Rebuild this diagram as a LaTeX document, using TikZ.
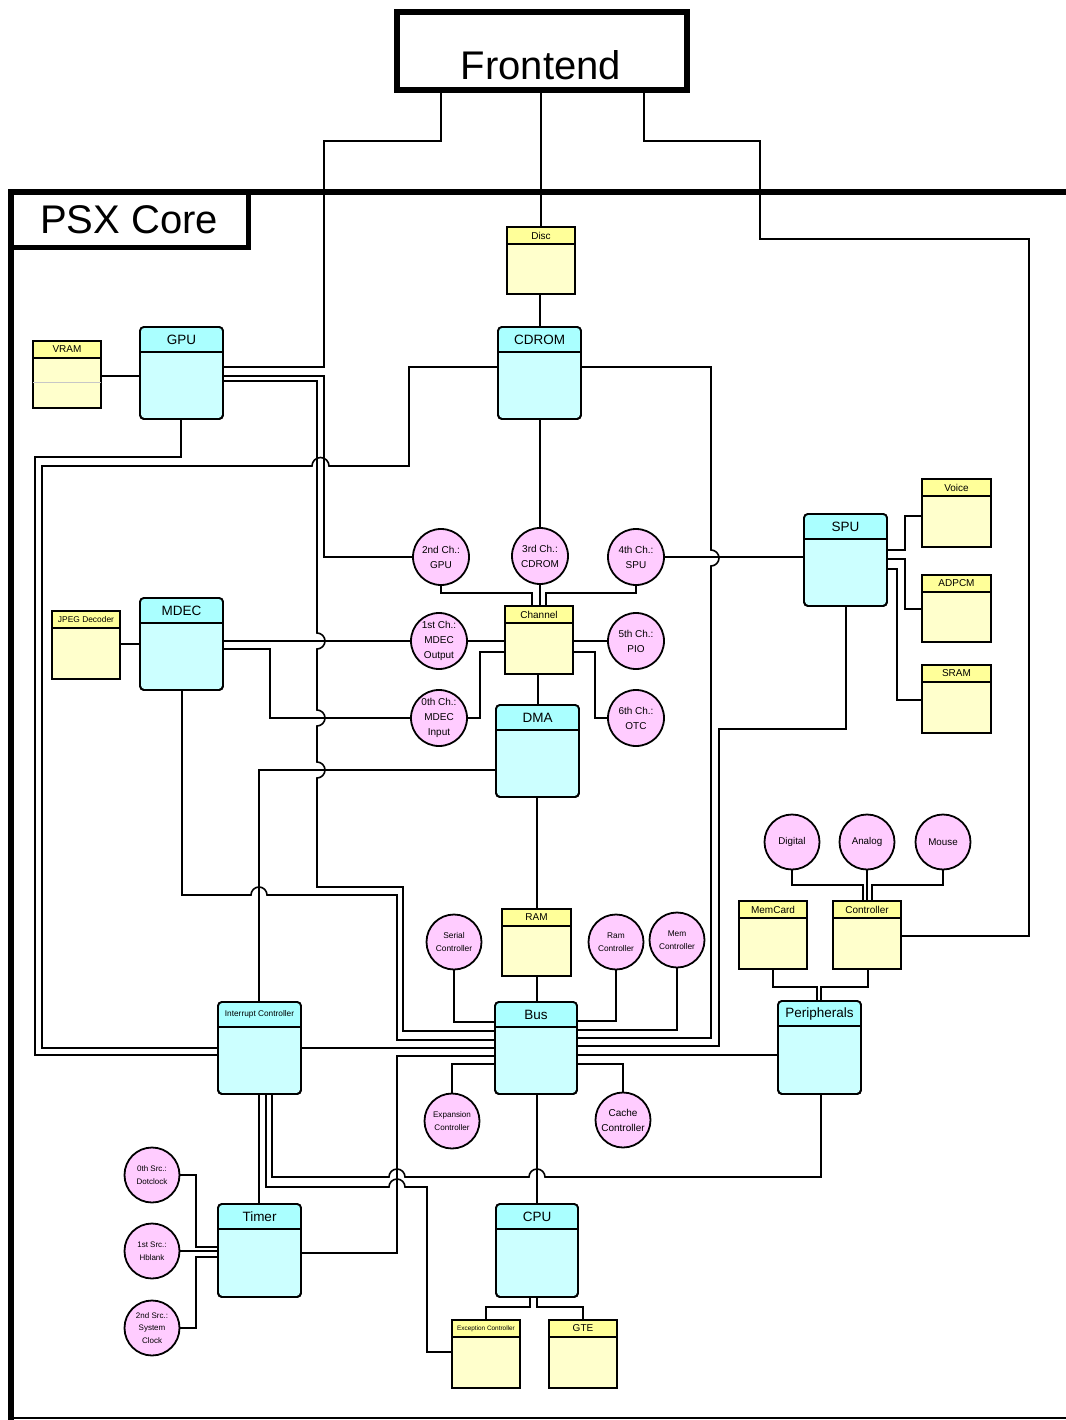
\documentclass[tikz,border=0pt]{standalone}
\usepackage{fontspec}
\setmainfont{Liberation Sans}
\usetikzlibrary{fit}
\definecolor{chead}{RGB}{170,255,255}
\definecolor{cbody}{RGB}{204,255,255}
\definecolor{yhead}{RGB}{255,255,153}
\definecolor{ybody}{RGB}{255,255,204}
\definecolor{pinkc}{RGB}{255,204,255}
\tikzset{
  wire/.style={line width=1.6pt},
  boxline/.style={line width=1.8pt},
  cbox/.style={draw, line width=1.8pt, fill=cbody, rounded corners=4pt, inner sep=0pt, outer sep=0pt},
  ybx/.style={draw, line width=1.8pt, fill=ybody, inner sep=0pt, outer sep=0pt},
  circ/.style={circle, draw, line width=1.8pt, fill=pinkc, minimum size=55pt, inner sep=0pt, outer sep=0pt},
  ctext/.style={align=center, inner sep=0pt},
}
\newcommand\cyanbox[7][13.5]{%
  \node[cbox, fit={(#3,#4) (#5,#6)}] (#2) {};
  \begin{scope}
    \clip[rounded corners=4pt] (#2.north west) rectangle (#2.south east);
    \fill[chead] (#2.north west) rectangle ([yshift=-25pt]#2.north east);
  \end{scope}
  \draw[boxline] ([yshift=-25pt]#2.north west) -- ([yshift=-25pt]#2.north east);
  \draw[boxline, rounded corners=4pt] (#2.north west) rectangle (#2.south east);
  \node[font=\fontsize{#1}{#1}\selectfont, inner sep=0pt] (#2-t) at ([yshift=-12.5pt]#2.north) {#7};
}
\newcommand\yelbox[7][10]{%
  \node[ybx, fit={(#3,#4) (#5,#6)}] (#2) {};
  \fill[yhead] (#2.north west) rectangle ([yshift=-17pt]#2.north east);
  \draw[boxline] ([yshift=-17pt]#2.north west) -- ([yshift=-17pt]#2.north east);
  \draw[boxline] (#2.north west) rectangle (#2.south east);
  \node[font=\fontsize{#1}{#1}\selectfont, inner sep=0pt] (#2-t) at ([yshift=-8.5pt]#2.north) {#7};
}
\begin{document}
\begin{tikzpicture}[x=1pt,y=-1pt]
\useasboundingbox (0,0) rectangle (1065,1420);

% ---- frames ----
\draw[line width=6pt] (1075,192) -- (11,192) -- (11,1430);
\draw[line width=1.5pt] (11,1418) -- (1075,1418);
\node[draw, line width=5pt, fit={(11,192) (248,248)}, inner sep=0pt, outer sep=0pt] (core) {};
\node[font=\fontsize{40}{40}\selectfont, inner sep=0pt] (core-t) at (129,220) {PSX Core};
\node[draw, line width=6pt, fit={(397,12) (687,90)}, inner sep=0pt, outer sep=0pt] (frontend) {};
\node[font=\fontsize{40}{40}\selectfont, inner sep=0pt] (frontend-t) at (541,65) {Frontend};

% ---- cyan boxes ----
\cyanbox{gpu}{140}{327}{223}{419}{GPU}
\cyanbox{cdrom}{498}{327}{581}{419}{CDROM}
\cyanbox{mdec}{140}{598}{223}{690}{MDEC}
\cyanbox{spu}{804}{514}{887}{606}{SPU}
\cyanbox{dma}{496}{705}{579}{797}{DMA}
\cyanbox{bus}{495}{1002}{577}{1094}{Bus}
\cyanbox{periph}{778}{1001}{861}{1094}{Peripherals}
\cyanbox[8.3]{intc}{218}{1002}{301}{1094}{Interrupt Controller}
\cyanbox{timer}{218}{1204}{301}{1297}{Timer}
\cyanbox{cpu}{496}{1204}{578}{1297}{CPU}

% ---- yellow boxes ----
\yelbox{vram}{33}{341}{101}{408}{VRAM}
\draw[black!22, line width=1pt] (vram.west |- 0,382) -- (vram.east |- 0,382);
\yelbox{disc}{507}{227}{575}{294}{Disc}
\yelbox[8.4]{jpeg}{52}{611}{120}{679}{JPEG Decoder}
\yelbox{channel}{505}{606}{573}{674}{Channel}
\yelbox{voice}{922}{479}{991}{547}{Voice}
\yelbox{adpcm}{922}{575}{991}{642}{ADPCM}
\yelbox{sram}{922}{665}{991}{733}{SRAM}
\yelbox{ram}{502}{909}{571}{976}{RAM}
\yelbox{memcard}{739}{901}{807}{969}{MemCard}
\yelbox{controller}{833}{901}{901}{969}{Controller}
\yelbox[6.4]{exc}{452}{1320}{520}{1388}{Exception Controller}
\yelbox{gte}{549}{1320}{617}{1388}{GTE}

% ---- circles ----
\node[circ, minimum size=56pt] (ch2) at (441,557) {};
\node[ctext, font=\fontsize{10}{15}\selectfont] (ch2-t) at (ch2) {2nd Ch.:\\GPU};
\node[circ, minimum size=56pt] (ch3) at (540,556) {};
\node[ctext, font=\fontsize{10}{15}\selectfont] (ch3-t) at (ch3) {3rd Ch.:\\CDROM};
\node[circ, minimum size=56pt] (ch4) at (636,557) {};
\node[ctext, font=\fontsize{10}{15}\selectfont] (ch4-t) at (ch4) {4th Ch.:\\SPU};
\node[circ, minimum size=56pt] (ch1) at (439,641) {};
\node[ctext, font=\fontsize{10}{15}\selectfont] (ch1-t) at (ch1) {1st Ch.:\\MDEC\\Output};
\node[circ, minimum size=56pt] (ch5) at (636,641) {};
\node[ctext, font=\fontsize{10}{15}\selectfont] (ch5-t) at (ch5) {5th Ch.:\\PIO};
\node[circ, minimum size=56pt] (ch0) at (439,718) {};
\node[ctext, font=\fontsize{10}{15}\selectfont] (ch0-t) at (ch0) {0th Ch.:\\MDEC\\Input};
\node[circ, minimum size=56pt] (ch6) at (636,718) {};
\node[ctext, font=\fontsize{10}{15}\selectfont] (ch6-t) at (ch6) {6th Ch.:\\OTC};
\node[circ] (serial) at (454,942) {};
\node[ctext, font=\fontsize{8.4}{13}\selectfont] (serial-t) at (serial) {Serial\\Controller};
\node[circ] (ramctl) at (616,942) {};
\node[ctext, font=\fontsize{8.3}{13}\selectfont] (ramctl-t) at (ramctl) {Ram\\Controller};
\node[circ] (memctl) at (677,940) {};
\node[ctext, font=\fontsize{8.3}{13}\selectfont] (memctl-t) at (memctl) {Mem\\Controller};
\node[circ] (digital) at (792,842) {};
\node[ctext, font=\fontsize{9.8}{12}\selectfont] (digital-t) at (digital) {Digital};
\node[circ] (analog) at (867,842) {};
\node[ctext, font=\fontsize{9.8}{12}\selectfont] (analog-t) at (analog) {Analog};
\node[circ] (mouse) at (943,842) {};
\node[ctext, font=\fontsize{9.8}{12}\selectfont] (mouse-t) at (mouse) {Mouse};
\node[circ] (expctl) at (452,1121) {};
\node[ctext, font=\fontsize{8.1}{12.5}\selectfont] (expctl-t) at (expctl) {Expansion\\Controller};
\node[circ] (cache) at (623,1120) {};
\node[ctext, font=\fontsize{10}{15}\selectfont] (cache-t) at (cache) {Cache\\Controller};
\node[circ] (src0) at (152,1175) {};
\node[ctext, font=\fontsize{8}{13}\selectfont] (src0-t) at (src0) {0th Src.:\\Dotclock};
\node[circ] (src1) at (152,1251) {};
\node[ctext, font=\fontsize{8}{13}\selectfont] (src1-t) at (src1) {1st Src.:\\Hblank};
\node[circ] (src2) at (152,1328) {};
\node[ctext, font=\fontsize{8}{12.5}\selectfont] (src2-t) at (src2) {2nd Src.:\\System\\Clock};

% ---- connectors ----
% frontend
\draw[wire] (frontend.south -| 441,0) -- (441,141) -- (324,141) -- (324,367) -- (gpu.east |- 0,367);
\draw[wire] (frontend.south -| 541,0) -- (disc.north -| 541,0);
\draw[wire] (frontend.south -| 644,0) -- (644,141) -- (760,141) -- (760,239) -- (1029,239) -- (1029,936) -- (controller.east |- 0,936);
\draw[wire] (disc.south -| 540,0) -- (cdrom.north -| 540,0);
% GPU
\draw[wire] (vram.east |- 0,376) -- (gpu.west |- 0,376);
\draw[wire] (gpu.east |- 0,376) -- (324,376) -- (ch2.west -| 324,0) -- (ch2.west);
\draw[wire] (gpu.east |- 0,381) -- (317,381) -- (317,633)
  arc[start angle=90, end angle=-90, radius=8pt] -- (317,710)
  arc[start angle=90, end angle=-90, radius=8pt] -- (317,762)
  arc[start angle=90, end angle=-90, radius=8pt] -- (317,887) -- (403,887) -- (403,1031) -- (bus.west |- 0,1031);
\draw[wire] (gpu.south -| 181,0) -- (181,457) -- (35,457) -- (35,1055) -- (intc.west |- 0,1055);
% CDROM
\draw[wire] (cdrom.west |- 0,367) -- (409,367) -- (409,466) -- (329,466)
  arc[start angle=0, end angle=180, radius=8.5pt] -- (42,466) -- (42,1048) -- (intc.west |- 0,1048);
\draw[wire] (cdrom.east |- 0,367) -- (711,367) -- (711,550)
  arc[start angle=90, end angle=-90, radius=8pt] -- (711,1038) -- (bus.east |- 0,1038);
\draw[wire] (cdrom.south -| ch3) -- (ch3.north);
% channels
\draw[wire] (ch2.south) -- (ch2.south |- 0,593) -- (532,593) -- (channel.north -| 532,0);
\draw[wire] (ch3.south) -- (channel.north -| ch3.south);
\draw[wire] (ch4.south) -- (ch4.south |- 0,593) -- (546,593) -- (channel.north -| 546,0);
\draw[wire] (ch4.east) -- (spu.west |- ch4.east);
\draw[wire] (ch1.east) -- (channel.west |- ch1.east);
\draw[wire] (ch0.east) -- (ch0.east -| 480,0) -- (480,652) -- (channel.west |- 0,652);
\draw[wire] (channel.east |- ch5.west) -- (ch5.west);
\draw[wire] (channel.east |- 0,652) -- (595,652) -- (ch6.west -| 595,0) -- (ch6.west);
\draw[wire] (channel.south -| 538,0) -- (dma.north -| 538,0);
% MDEC
\draw[wire] (jpeg.east |- 0,644) -- (mdec.west |- 0,644);
\draw[wire] (mdec.east |- ch1.west) -- (ch1.west);
\draw[wire] (mdec.east |- 0,649) -- (270,649) -- (ch0.west -| 270,0) -- (ch0.west);
\draw[wire] (mdec.south -| 182,0) -- (182,895) -- (251,895)
  arc[start angle=180, end angle=0, radius=8pt] -- (397,895) -- (397,1040) -- (bus.west |- 0,1040);
% DMA
\draw[wire] (dma.west |- 0,770) -- (259,770) -- (intc.north -| 259,0);
\draw[wire] (dma.south -| 537,0) -- (ram.north -| 537,0);
\draw[wire] (ram.south -| 537,0) -- (bus.north -| 537,0);
% SPU
\draw[wire] (spu.east |- 0,550) -- (905,550) -- (905,516) -- (voice.west |- 0,516);
\draw[wire] (spu.east |- 0,559) -- (905,559) -- (905,609) -- (adpcm.west |- 0,609);
\draw[wire] (spu.east |- 0,569) -- (897,569) -- (897,700) -- (sram.west |- 0,700);
\draw[wire] (spu.south -| 846,0) -- (846,729) -- (719,729) -- (719,1046) -- (bus.east |- 0,1046);
% Bus
\draw[wire] (serial.south) -- (serial.south |- 0,1022) -- (bus.west |- 0,1022);
\draw[wire] (ramctl.south) -- (ramctl.south |- 0,1021) -- (bus.east |- 0,1021);
\draw[wire] (memctl.south) -- (memctl.south |- 0,1030) -- (bus.east |- 0,1030);
\draw[wire] (intc.east |- 0,1048) -- (bus.west |- 0,1048);
\draw[wire] (timer.east |- 0,1253) -- (397,1253) -- (397,1056) -- (bus.west |- 0,1056);
\draw[wire] (bus.west |- 0,1064) -- (expctl.north |- 0,1064) -- (expctl.north);
\draw[wire] (bus.east |- 0,1064) -- (cache.north |- 0,1064) -- (cache.north);
\draw[wire] (bus.east |- 0,1055) -- (periph.west |- 0,1055);
\draw[wire] (bus.south -| 537,0) -- (cpu.north -| 537,0);
% peripherals / interrupts
\draw[wire] (periph.south -| 821,0) -- (821,1177) -- (545,1177)
  arc[start angle=0, end angle=180, radius=8pt] -- (405,1177)
  arc[start angle=0, end angle=180, radius=8pt] -- (272,1177) -- (intc.south -| 272,0);
\draw[wire] (intc.south -| 266,0) -- (266,1187) -- (389,1187)
  arc[start angle=180, end angle=0, radius=8pt] -- (427,1187) -- (427,1352) -- (exc.west |- 0,1352);
\draw[wire] (intc.south -| 259,0) -- (timer.north -| 259,0);
% timer sources
\draw[wire] (src0.east) -- (src0.east -| 196,0) -- (196,1247) -- (timer.west |- 0,1247);
\draw[wire] (src1.east) -- (timer.west |- src1.east);
\draw[wire] (src2.east) -- (src2.east -| 196,0) -- (196,1257) -- (timer.west |- 0,1257);
% CPU
\draw[wire] (cpu.south -| 530,0) -- (530,1307) -- (486,1307) -- (exc.north -| 486,0);
\draw[wire] (cpu.south -| 537,0) -- (537,1307) -- (583,1307) -- (gte.north -| 583,0);
% peripherals
\draw[wire] (periph.north -| 817,0) -- (817,987) -- (773,987) -- (memcard.south -| 773,0);
\draw[wire] (periph.north -| 821,0) -- (821,987) -- (868,987) -- (controller.south -| 868,0);
\draw[wire] (digital.south) -- (digital.south |- 0,885) -- (863,885) -- (controller.north -| 863,0);
\draw[wire] (analog.south) -- (controller.north -| analog.south);
\draw[wire] (mouse.south) -- (mouse.south |- 0,885) -- (872,885) -- (controller.north -| 872,0);
\end{tikzpicture}
\end{document}
